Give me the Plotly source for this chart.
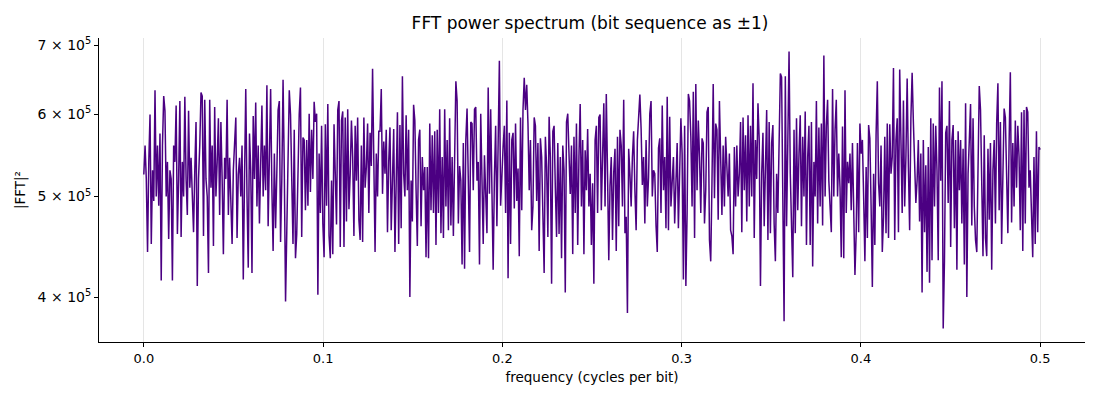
import numpy as np
import plotly.graph_objects as go

# |FFT|^2, in thousands, from f=0 to f=0.5 (evenly spaced bins)
power_k = [
    525, 560, 520, 442, 540, 600, 450, 530, 495, 633,
    500, 560, 490, 575, 415, 560, 625, 605, 500, 540,
    455, 530, 520, 415, 560, 540, 612, 460, 520, 618,
    457, 540, 500, 624, 520, 480, 605, 510, 545, 490,
    462, 530, 590, 410, 520, 560, 630, 625, 458, 620,
    520, 500, 422, 620, 510, 560, 448, 610, 500, 540,
    595, 480, 590, 520, 440, 545, 520, 620, 480, 545,
    500, 450, 530, 560, 596, 456, 525, 545, 500, 560,
    416, 520, 635, 500, 427, 575, 530, 422, 598, 520,
    616, 489, 560, 471, 540, 612, 500, 560, 507,
    # 0.069 - 0.139
    640, 468, 545, 635, 510, 443, 550, 466, 528, 606,
    618, 452, 520, 648, 530, 396, 463, 554, 633, 600,
    500, 450, 580, 436, 460, 546, 600, 637, 457, 570,
    567, 485, 567, 490, 601, 505, 580, 520, 617, 590,
    601, 402, 550, 482, 585, 471, 437, 587, 490, 614,
    458, 436, 518, 440, 587, 526, 470, 606, 618, 447,
    592, 604, 447, 596, 473, 607, 486, 526, 592, 546,
    458, 585, 518, 596, 475, 454, 560, 452, 596, 510,
    534, 588, 482, 576, 535, 664, 500, 442, 550, 500,
    578, 578, 635, 503, 565, 526, 580, 462, 540, 583,
    464, 515, 581, 442,
    # 0.141 - 0.211
    540, 603, 450, 586, 466, 653, 526, 500, 599, 507,
    580, 400, 518, 473, 613, 592, 507, 448, 567, 580,
    468, 546, 507, 534, 437, 534, 436, 588, 485, 573,
    482, 578, 449, 580, 482, 607, 461, 546, 456, 607,
    489, 567, 464, 595, 469, 546, 458, 526, 646, 618,
    471, 535, 518, 430, 563, 426, 567, 608, 489, 442,
    590, 588, 507, 607, 610, 518, 540, 430, 601, 500,
    450, 548, 489, 461, 637, 503, 607, 489, 425, 522,
    585, 468, 555, 676, 490, 532, 558, 585, 482, 619,
    417, 576, 450, 567, 576, 487, 588, 495, 532, 438,
    596, 485, 606, 651,
    # 0.213 - 0.283
    606, 641, 588, 507, 567, 464, 489, 596, 585, 495,
    563, 443, 569, 546, 489, 422, 571, 534, 457, 597,
    546, 412, 578, 585, 510, 457, 563, 460, 546, 436,
    560, 530, 404, 590, 601, 554, 503, 560, 440, 571,
    482, 588, 449, 546, 614, 489, 567, 440, 554, 507,
    581, 489, 526, 449, 515, 412, 567, 585, 482, 596,
    600, 485, 567, 615, 489, 628, 526, 434, 512, 546,
    454, 528, 556, 443, 571, 468, 580, 560, 489, 620,
    461, 478, 386, 556, 526, 489, 546, 578, 507, 464,
    567, 596, 627, 581, 513, 546, 471, 567, 489, 522,
    601, 618, 500, 530,
    # 0.285 - 0.355
    526, 469, 442, 557, 569, 482, 612, 507, 546, 466,
    624, 464, 597, 489, 518, 546, 471, 534, 563, 466,
    526, 595, 550, 416, 585, 410, 482, 628, 618, 571,
    489, 631, 456, 642, 507, 592, 546, 482, 569, 563,
    471, 507, 603, 610, 454, 433, 515, 642, 498, 588,
    580, 475, 618, 536, 480, 560, 489, 571, 532, 500,
    550, 464, 458, 440, 558, 489, 560, 500, 526, 590,
    462, 596, 507, 573, 473, 599, 489, 585, 500, 643,
    456, 567, 520, 615, 567, 410, 526, 576, 468, 530,
    606, 454, 590, 461, 563, 586, 471, 433, 526, 482,
    573, 657, 652, 473,
    # 0.357 - 0.427
    379, 653, 468, 563, 690, 526, 468, 418, 580, 461,
    595, 485, 550, 599, 468, 571, 500, 604, 449, 546,
    585, 449, 590, 428, 540, 500, 618, 471, 583, 489,
    588, 469, 684, 500, 585, 620, 518, 485, 462, 635,
    500, 580, 620, 500, 550, 510, 437, 584, 436, 633,
    482, 540, 515, 550, 485, 563, 500, 420, 461, 563,
    462, 588, 550, 567, 500, 433, 534, 456, 586, 569,
    489, 409, 526, 449, 573, 646, 515, 489, 560, 442,
    478, 571, 461, 588, 456, 587, 526, 546, 665, 454,
    567, 595, 462, 663, 567, 482, 619, 489, 546, 650,
    534, 464, 595, 658,
    # 0.429 - 0.5
    590, 546, 493, 518, 567, 473, 550, 404, 567, 462,
    536, 423, 558, 413, 595, 434, 588, 489, 585, 530,
    434, 637, 518, 646, 373, 433, 576, 585, 493, 618,
    447, 567, 586, 466, 567, 425, 578, 507, 567, 471,
    556, 430, 615, 400, 526, 567, 614, 469, 595, 489,
    454, 442, 536, 639, 606, 530, 438, 573, 456, 438,
    556, 475, 563, 425, 530, 567, 471, 588, 643, 485,
    590, 450, 526, 608, 596, 510, 461, 563, 659, 472,
    563, 489, 592, 510, 585, 546, 464, 603, 443, 606,
    471, 610, 603, 510, 530, 482, 437, 546, 450, 578,
    462, 558, 555,
]

x_ticks = [0.0, 0.1, 0.2, 0.3, 0.4, 0.5]
y_ticks = [4e5, 5e5, 6e5, 7e5]
y_tick_labels = ["4 × 10<sup>5</sup>", "5 × 10<sup>5</sup>", "6 × 10<sup>5</sup>", "7 × 10<sup>5</sup>"]

power = np.array(power_k) * 1000.0
freq = np.linspace(0.0, 0.5, len(power))  # rfft bin frequencies

fig = go.Figure(go.Scatter(
    x=freq, y=power, mode="lines",
    line=dict(color="#4B0082", width=1.5),
    hovertemplate="f=%{x:.4f}<br>|FFT|²=%{y:.0f}<extra></extra>",
))

# the page body adds an 8px offset; figure is narrowed so it fits the window
fig.update_layout(
    width=1092, height=392,
    margin=dict(l=87, r=15, t=30, b=58),
    paper_bgcolor="white", plot_bgcolor="white",
    font=dict(family="DejaVu Sans", size=13, color="black"),
    showlegend=False,
    title=dict(text="FFT power spectrum (bit sequence as ±1)", x=(87 + 1077) / 2 / 1092,
               xanchor="center", xref="container",
               y=1 - 15 / 392, yanchor="middle", font=dict(size=17)),
)
fig.update_xaxes(
    range=[-0.025, 0.525], tickvals=x_ticks, tickformat=".1f",
    tickfont=dict(size=13),
    showgrid=True, gridcolor="rgba(0,0,0,0.1)", gridwidth=1, zeroline=False,
    showline=True, linecolor="black", linewidth=1,
    ticks="outside", ticklen=4, tickcolor="black",
    title=dict(text="frequency (cycles per bit)", font=dict(size=13.5), standoff=7),
)
fig.update_yaxes(
    type="log", range=[np.log10(3.62e5), np.log10(7.11e5)],
    tickvals=y_ticks, ticktext=y_tick_labels, tickfont=dict(size=14),
    showgrid=False, zeroline=False,
    showline=True, linecolor="black", linewidth=1,
    ticks="outside", ticklen=4, tickcolor="black",
    title=dict(text="|FFT|²", font=dict(size=13.5), standoff=8),
)

fig.write_html("out.html")
